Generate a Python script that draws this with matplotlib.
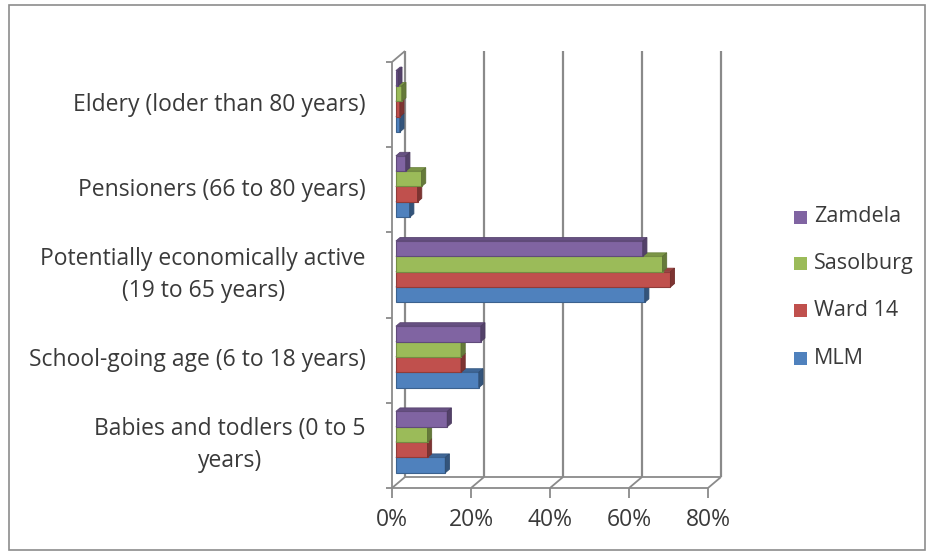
import matplotlib.pyplot as plt
from matplotlib.patches import Polygon, Rectangle
import numpy as np

# age groups, bottom to top
categories = ['Babies and todlers (0 to 5\nyears)',
              'School-going age (6 to 18 years)',
              'Potentially economically active\n(19 to 65 years)',
              'Pensioners (66 to 80 years)',
              'Eldery (loder than 80 years)']

# % of population per area
mlm = [12.5, 21, 63, 3.5, 1]
ward14 = [8, 16.5, 69.5, 5.5, 1]
sasolburg = [8, 16.5, 67.5, 6.5, 1.5]
zamdela = [13, 21.5, 62.5, 2.5, 0.5]

series = [('MLM', mlm, '#4F81BD'),
          ('Ward 14', ward14, '#C0504D'),
          ('Sasolburg', sasolburg, '#9BBB59'),
          ('Zamdela', zamdela, '#8064A2')]

xticks = [0, 20, 40, 60, 80]

plt.rcParams['font.family'] = ['Open Sans', 'DejaVu Sans']
FS = 16.5
TXT = '#3A3A3A'

W, H = 933, 557
fig = plt.figure(figsize=(W / 100, H / 100), dpi=100)

# front plane of the pseudo-3d box in pixel coords
x0px, x1px, y0px, y1px = 392, 708, 62, 488
ax = fig.add_axes([x0px / W, 1 - y1px / H, (x1px - x0px) / W, (y1px - y0px) / H])
ax.set_xlim(0, 80)
ax.set_ylim(-0.5, 4.5)
ax.axis('off')

# depth vector (one full unit of depth) in data units
DX = 80 * 13 / (x1px - x0px)
DY = 5 * 11 / (y1px - y0px)
grid_c = '#8A8A8A'


def pt(x, y, z):
    return (x + z * DX, y + z * DY)


def line(pts, **kw):
    xs, ys = zip(*pts)
    ax.plot(xs, ys, color=grid_c, lw=kw.pop('lw', 1.3), clip_on=False,
            solid_capstyle='butt', **kw)


# back wall gridlines and floor
ytop = 4.5
for t in xticks:
    line([pt(t, -0.5, 1), pt(t, ytop, 1)], lw=1.6, zorder=1)
    line([pt(t, -0.5, 0), pt(t, -0.5, 1)], zorder=1)
    line([pt(t, -0.5, 0), pt(t, -0.62, 0)], zorder=1)
line([pt(0, -0.5, 1), pt(80, -0.5, 1)], zorder=1)
line([pt(0, -0.5, 0), pt(80, -0.5, 0)], zorder=1)

# left wall
line([pt(0, -0.5, 0), pt(0, ytop, 0)], zorder=1)
line([pt(0, ytop, 0), pt(0, ytop, 1)], zorder=1)
for k in range(6):
    yb = -0.5 + k
    line([pt(0, yb, 0), pt(-1.6, yb, 0)], zorder=1)


def shade(c, f):
    c = np.array(plt.matplotlib.colors.to_rgb(c))
    return tuple(np.clip(c * f, 0, 1))


# bars, bottom series first so upper bars hide lower tops
h = 0.18
z0, z1 = 0.3, 0.62
for i in range(len(categories)):
    for j, (name, vals, col) in enumerate(series):
        v = vals[i]
        yb = i - 2 * h + j * h
        front = Polygon([pt(0, yb, z0), pt(v, yb, z0), pt(v, yb + h, z0), pt(0, yb + h, z0)],
                        closed=True, fc=col, ec=shade(col, 0.75), lw=0.8, zorder=3, clip_on=False)
        top = Polygon([pt(0, yb + h, z0), pt(v, yb + h, z0), pt(v, yb + h, z1), pt(0, yb + h, z1)],
                      closed=True, fc=shade(col, 0.8), ec=shade(col, 0.7), lw=0.6, zorder=3, clip_on=False)
        end = Polygon([pt(v, yb, z0), pt(v, yb + h, z0), pt(v, yb + h, z1), pt(v, yb, z1)],
                      closed=True, fc=shade(col, 0.65), ec=shade(col, 0.6), lw=0.6, zorder=3, clip_on=False)
        for p in (top, front, end):
            ax.add_patch(p)

# tick labels
for t in xticks:
    ax.text(t, -0.5 - 0.38, f'{t}%', ha='center', va='center',
            fontsize=FS, color=TXT, clip_on=False)
for i, lab in enumerate(categories):
    ax.text(-6.6, i, lab, ha='right', va='center', multialignment='center',
            fontsize=FS, color=TXT, linespacing=1.45, clip_on=False)

# legend
leg_y = [358, 310, 263, 217]
for (name, vals, col), yy in zip(series, leg_y):
    fig.patches.append(Rectangle((794 / W, 1 - (yy + 7) / H), 13 / W, 13 / H,
                                 transform=fig.transFigure, fc=col, ec='none'))
    fig.text(814 / W, 1 - yy / H, name, ha='left', va='center',
             fontsize=15.5, color=TXT)

# chart border
fig.patches.append(Rectangle((9 / W, 1 - 550 / H), 916 / W, 545 / H,
                             transform=fig.transFigure, fill=False, ec='#8C8C8C', lw=1.2))

fig.savefig('out.png', dpi=100)
